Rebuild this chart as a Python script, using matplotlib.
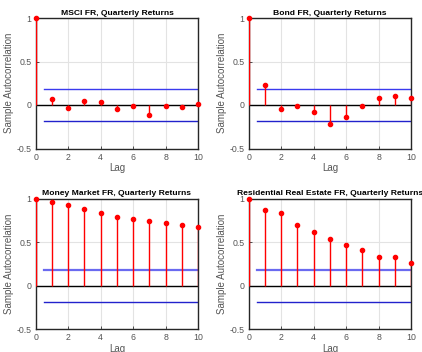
import matplotlib
matplotlib.use("Agg")
import matplotlib.pyplot as plt
import numpy as np

plt.rcParams['font.family'] = ['Liberation Sans', 'DejaVu Sans']

lags = list(range(11))
titles = ["MSCI FR, Quarterly Returns", "Bond FR, Quarterly Returns",
          "Money Market FR, Quarterly Returns", "Residential Real Estate FR, Quarterly Returns"]
msci = [1.0, 0.065, -0.03, 0.05, 0.03, -0.045, -0.01, -0.12, -0.01, -0.025, 0.015]
bond = [1.0, 0.23, -0.045, -0.008, -0.08, -0.22, -0.14, -0.008, 0.085, 0.10, 0.085]
money = [1.0, 0.965, 0.923, 0.877, 0.835, 0.792, 0.765, 0.746, 0.723, 0.696, 0.669]
resid = [1.0, 0.865, 0.835, 0.696, 0.62, 0.542, 0.469, 0.415, 0.327, 0.327, 0.258]
bound = 0.185
series = [msci, bond, money, resid]

fig = plt.figure(figsize=(4.22, 3.52), dpi=100)
positions = [
    (35.7, 18.0), (248.7, 18.0),
    (35.7, 198.7), (248.7, 198.7),
]
W, H = 162.5, 130.5
for i, ((px, py), title, vals) in enumerate(zip(positions, titles, series)):
    ax = fig.add_axes([px / 422, 1 - (py + H) / 352, W / 422, H / 352])
    ax.set_xlim(0, 10)
    ax.set_ylim(-0.5, 1)
    ax.grid(True, color='#e3e3e3', linewidth=0.8)
    ax.set_axisbelow(True)
    ax.axhline(0, color='black', linewidth=1.0, zorder=2)
    ax.vlines(lags, 0, vals, color='red', linewidth=1.0, zorder=3)
    ax.plot(lags, vals, 'o', color='red', markersize=3, zorder=4, clip_on=False)
    up_col = '#6a6af0' if i >= 2 else '#3a3aee'
    up_w = 1.6 if i >= 2 else 1.0
    ax.plot([0.5, 10], [bound, bound], color=up_col, linewidth=up_w, zorder=2)
    ax.plot([0.5, 10], [-bound, -bound], color='#2222cc', linewidth=1.0, zorder=2)
    ax.set_xticks([0, 2, 4, 6, 8, 10])
    ax.set_yticks([-0.5, 0, 0.5, 1])
    ax.set_yticklabels(['-0.5', '0', '0.5', '1'])
    ax.tick_params(direction='in', labelsize=6.3, colors='#333333', labelcolor='#555555',
                   length=2, width=0.6, pad=3)
    for s in ax.spines.values():
        s.set_color('#262626')
        s.set_linewidth(1.0)
    ax.set_title(title, fontsize=6.1, fontweight='bold', pad=2.5)
    ax.set_xlabel('Lag', fontsize=7, color='#555555', labelpad=1)
    ax.set_ylabel('Sample Autocorrelation', fontsize=7, color='#555555', labelpad=2)

fig.savefig('out.png', dpi=100)
